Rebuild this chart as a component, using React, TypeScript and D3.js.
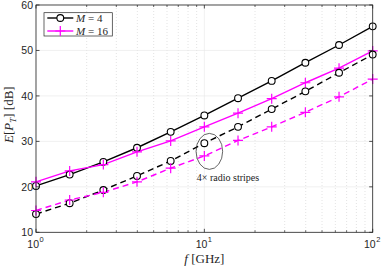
import React from "react";
import * as d3 from "d3";

const freqs = [1, 1.585, 2.512, 3.981, 6.31, 10, 15.85, 25.12, 39.81, 63.1, 100];
const m4Solid = [20.2, 22.7, 25.5, 28.6, 32.1, 35.7, 39.5, 43.3, 47.3, 51.2, 55.3];
const m16Solid = [21.1, 23.5, 24.9, 27.7, 30.1, 33.2, 36.2, 39.4, 42.9, 46.1, 49.9];
const m4Dashed = [14.0, 16.4, 19.3, 22.4, 25.7, 29.6, 33.2, 37.1, 41.0, 45.1, 49.1];
const m16Dashed = [14.8, 17.1, 18.8, 21.1, 24.1, 26.8, 30.2, 33.2, 36.4, 39.8, 43.7];
const yTicks = [10, 20, 30, 40, 50, 60];
const xMajor = [1, 10, 100];
const xExp = ["0", "1", "2"];

const W = 382, H = 271;
const L = 36, R = 372.7, T = 5, B = 232.3;

export default function App() {
  const x = d3.scaleLog().domain([1, 100]).range([L, R]);
  const y = d3.scaleLinear().domain([10, 60]).range([B, T]);
  const line = d3.line<[number, number]>().x(d => x(d[0])).y(d => y(d[1]));
  const minor: number[] = [];
  for (const dec of [1, 10]) for (let k = 2; k <= 9; k++) minor.push(dec * k);
  const mk = (vals: number[]) => freqs.map((f, i) => [f, vals[i]] as [number, number]);
  const black = "#000";
  const mag = "#FF00FF";
  const circles = (vals: number[], key: string) =>
    mk(vals).map((d, i) => (
      <circle key={key + i} cx={x(d[0])} cy={y(d[1])} r={3.4} fill="#fff" stroke={black} strokeWidth={1.1} />
    ));
  const pluses = (vals: number[], key: string) =>
    mk(vals).map((d, i) => (
      <path key={key + i} d={`M${x(d[0]) - 5},${y(d[1])}h10M${x(d[0])},${y(d[1]) - 5}v10`} stroke={mag} strokeWidth={1.2} />
    ));
  return (
    <svg width={W} height={H} style={{ position: "absolute", left: 0, top: 0 }} fontFamily="Liberation Sans, Arial, sans-serif">
      <rect x={0} y={0} width={W} height={H} fill="#fff" />
      <rect x={L} y={T} width={R - L} height={B - T} fill="#fff" />
      {/* grid */}
      {minor.map((v, i) => (
        <line key={"gm" + i} x1={x(v)} x2={x(v)} y1={T} y2={B} stroke="#d0d0d0" strokeWidth={0.6} strokeDasharray="1,2" />
      ))}
      {xMajor.map((v, i) => (
        <line key={"gx" + i} x1={x(v)} x2={x(v)} y1={T} y2={B} stroke="#e6e6e6" strokeWidth={0.6} />
      ))}
      {yTicks.map((v, i) => (
        <line key={"gy" + i} x1={L} x2={R} y1={y(v)} y2={y(v)} stroke="#e6e6e6" strokeWidth={0.6} />
      ))}
      {/* lines */}
      <path d={line(mk(m4Solid)) || ""} fill="none" stroke={black} strokeWidth={1.4} />
      <path d={line(mk(m16Solid)) || ""} fill="none" stroke={mag} strokeWidth={1.4} />
      <path d={line(mk(m4Dashed)) || ""} fill="none" stroke={black} strokeWidth={1.4} strokeDasharray="6,4" />
      <path d={line(mk(m16Dashed)) || ""} fill="none" stroke={mag} strokeWidth={1.4} strokeDasharray="6,4" />
      {circles(m4Solid, "a")}
      {pluses(m16Solid, "b")}
      {circles(m4Dashed, "c")}
      {pluses(m16Dashed, "d")}
      {/* annotation */}
      <ellipse cx={x(10) + 5} cy={y(27.8)} rx={13.3} ry={18} fill="none" stroke="#222" strokeWidth={0.7} />
      <text x={x(10) - 7.5} y={181} fontFamily="Liberation Serif, serif" fontSize={10} fill="#222">4× radio stripes</text>
      {/* axes box */}
      <rect x={L} y={T} width={R - L} height={B - T} fill="none" stroke="#262626" strokeWidth={0.8} />
      {/* ticks */}
      {yTicks.map((v, i) => (
        <g key={"ty" + i}>
          <line x1={L} x2={L + 3.5} y1={y(v)} y2={y(v)} stroke="#262626" strokeWidth={0.8} />
          <line x1={R} x2={R - 3.5} y1={y(v)} y2={y(v)} stroke="#262626" strokeWidth={0.8} />
          <text x={L - 3} y={y(v) + 3.8} fontSize={10.5} textAnchor="end" fill="#262626">{v}</text>
        </g>
      ))}
      {minor.map((v, i) => (
        <g key={"tm" + i}>
          <line x1={x(v)} x2={x(v)} y1={B} y2={B - 2} stroke="#262626" strokeWidth={0.7} />
          <line x1={x(v)} x2={x(v)} y1={T} y2={T + 2} stroke="#262626" strokeWidth={0.7} />
        </g>
      ))}
      {xMajor.map((v, i) => (
        <g key={"tx" + i}>
          <line x1={x(v)} x2={x(v)} y1={B} y2={B - 3.5} stroke="#262626" strokeWidth={0.8} />
          <line x1={x(v)} x2={x(v)} y1={T} y2={T + 3.5} stroke="#262626" strokeWidth={0.8} />
          <text x={x(v) + 3} y={248} fontSize={10.5} textAnchor="end" fill="#262626">10</text>
          <text x={x(v) + 3.5} y={242} fontSize={7.5} fill="#262626">{xExp[i]}</text>
        </g>
      ))}
      {/* axis labels */}
      <text x={x(10)} y={263} fontFamily="Liberation Serif, serif" fontSize={13} textAnchor="middle" fill="#262626">
        <tspan fontStyle="italic">f</tspan> [GHz]
      </text>
      <text transform={`translate(13,${(T + B) / 2 - 4}) rotate(-90)`} fontFamily="Liberation Serif, serif" fontSize={13} textAnchor="middle" fill="#262626">
        <tspan fontStyle="italic">E</tspan>[<tspan fontStyle="italic">P</tspan><tspan fontStyle="italic" fontSize={9} dy={2.5}>T</tspan><tspan dy={-2.5}>] [dB]</tspan>
      </text>
      {/* legend */}
      <rect x={44} y={12.7} width={68.3} height={23.3} fill="#fff" stroke="#262626" strokeWidth={0.7} />
      <line x1={47.3} x2={73.3} y1={18} y2={18} stroke={black} strokeWidth={1.4} />
      <circle cx={60.3} cy={18} r={3.4} fill="#fff" stroke={black} strokeWidth={1.1} />
      <line x1={47.3} x2={73.3} y1={31} y2={31} stroke={mag} strokeWidth={1.4} />
      <path d="M55.3,31h10M60.3,26v10" stroke={mag} strokeWidth={1.2} />
      <text x={76} y={21.8} fontFamily="Liberation Serif, serif" fontSize={11} fill="#262626">
        <tspan fontStyle="italic">M</tspan> = 4
      </text>
      <text x={76} y={34.8} fontFamily="Liberation Serif, serif" fontSize={11} fill="#262626">
        <tspan fontStyle="italic">M</tspan> = 16
      </text>
    </svg>
  );
}
